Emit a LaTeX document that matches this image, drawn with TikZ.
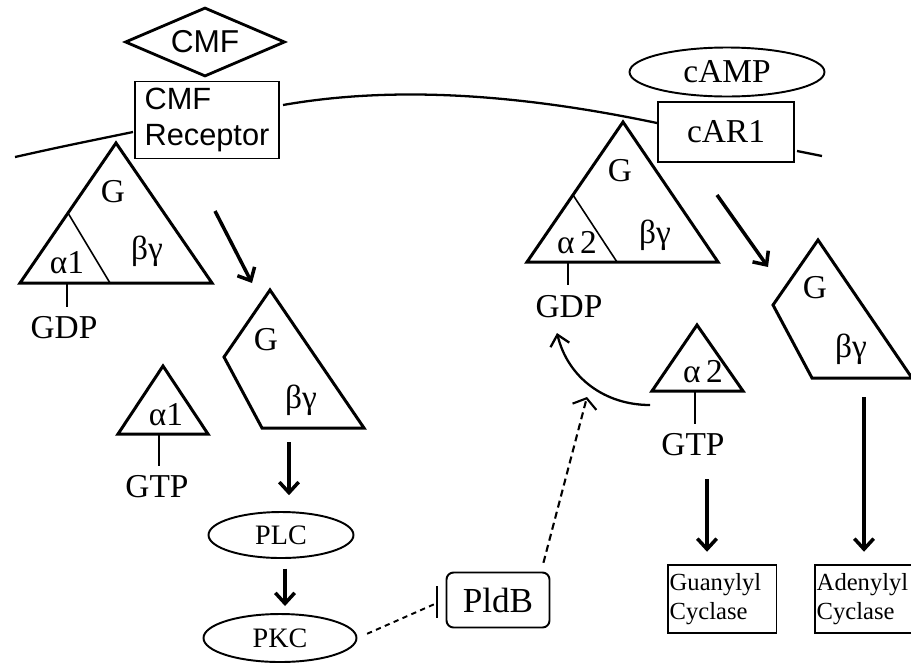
\documentclass[tikz,border=0pt]{standalone}
\usepackage{fontspec}
\setmainfont{Liberation Serif}
\setsansfont{Liberation Sans}
\usetikzlibrary{shapes, arrows.meta, positioning, calc}

\tikzset{
  membrane/.style={line width=1.3pt},
  prot/.style={line width=1.7pt, line join=miter},
  split/.style={line width=0.9pt},
  stem/.style={line width=1.1pt},
  sig/.style={line width=2pt, -{Straight Barb[length=6pt, width=11pt]}},
  lbl/.style={font=\fontsize{19}{22}\selectfont, inner sep=1pt},
  enz/.style={draw, ellipse, line width=1.1pt, inner sep=0pt, font=\fontsize{16}{19}\selectfont},
  cyc/.style={draw, rectangle, line width=1.1pt, align=left, inner ysep=0pt, inner xsep=1pt,
    text width=2.1cm, minimum height=1.36cm, font=\fontsize{14}{16.5}\selectfont},
}

\begin{document}
\begin{tikzpicture}[x=0.02cm, y=-0.02cm]
\useasboundingbox (0,0) rectangle (911,663);

% membrane
\draw[membrane] (15,157) .. controls (60,147) .. (133,132);
\draw[membrane] (283,105) .. controls (380,88) and (500,90) .. (657,123);
\draw[membrane] (797,151) -- (822,156);

% receptors and ligands
\node[draw, diamond, aspect=2.3, line width=1.6pt, inner sep=0pt,
  minimum width=3.2cm, minimum height=1.38cm,
  font=\sffamily\fontsize{18}{21}\selectfont] (cmf) at (205,42) {CMF};
\node[draw, fill=white, line width=1.1pt, align=left, inner sep=0pt,
  minimum width=2.88cm, minimum height=1.54cm,
  font=\sffamily\fontsize{17.5}{21}\selectfont] (cmfr) at (207,120) {CMF\\Receptor};
\node[draw, ellipse, line width=1.1pt, inner sep=0pt,
  minimum width=3.9cm, minimum height=0.98cm, font=\fontsize{19}{22}\selectfont] (camp) at (727,72) {cAMP};
\node[draw, fill=white, line width=1.1pt, inner sep=0pt,
  minimum width=2.72cm, minimum height=1.2cm, font=\fontsize{19}{22}\selectfont] (car) at (726,132) {cAR1};

% G protein at CMF receptor
\draw[prot] (20,283) -- (116,143) -- (212,283) -- cycle;
\draw[split] (68,213) -- (110,283);
\node[lbl] (gA) at (113,192) {G};
\node[lbl] (a1A) at (67,263) {α1};
\node[lbl] (bgA) at (147,251) {βγ};
\draw[stem] (67,283) -- ++(0,24);
\node[lbl] (gdpA) at (64,328) {GDP};

% free beta-gamma (CMF side)
\draw[prot] (270,290) -- (224,357) -- (262,428) -- (364,428) -- cycle;
\node[lbl] (gC) at (266,340) {G};
\node[lbl] (bgC) at (301,400) {βγ};

% free alpha1
\draw[prot] (118,434) -- (163,366) -- (208,434) -- cycle;
\node[lbl] (a1C) at (166,415) {α1};
\draw[stem] (159,434) -- ++(0,32);
\node[lbl] (gtpA) at (157,487) {GTP};

% G protein at cAR1
\draw[prot] (527,262) -- (623,122) -- (718,262) -- cycle;
\draw[split] (573,195) -- (617,262);
\node[lbl] (gB) at (620,171) {G};
\node[lbl] (a2B) at (577,243) {α\,2};
\node[lbl] (bgB) at (655,235) {βγ};
\draw[stem] (568,262) -- ++(0,23);
\node[lbl] (gdpB) at (569,307) {GDP};

% free beta-gamma (cAR1 side)
\draw[prot] (818,240) -- (773,305) -- (812,378) -- (912,378) -- cycle;
\node[lbl] (gD) at (815,288) {G};
\node[lbl] (bgD) at (851,349) {βγ};

% free alpha2
\draw[prot] (652,391) -- (697,325) -- (743,391) -- cycle;
\node[lbl] (a2D) at (703,372) {α\,2};
\draw[stem] (695,391) -- ++(0,33);
\node[lbl] (gtpB) at (693,445) {GTP};

% effectors
\node[enz, minimum width=2.9cm, minimum height=0.92cm] (plc) at (281,535) {PLC};
\node[enz, minimum width=3.06cm, minimum height=0.96cm] (pkc) at (280,638) {PKC};
\node[draw, rounded corners=4pt, line width=1.1pt, inner sep=0pt,
  minimum width=2.06cm, minimum height=1.1cm, font=\fontsize{20}{24}\selectfont] (pldb) at (498,600) {PldB};
\node[cyc, anchor=west] (gcyc) at (667,599) {Guanylyl\\Cyclase};
\node[cyc, anchor=west] (acyc) at (814,599) {Adenylyl\\Cyclase};

% dissociation
\coordinate (dissA) at (215,211);
\coordinate (dissA') at (252,283);
\coordinate (dissB) at (717,195);
\coordinate (dissB') at (768,267);
\draw[sig] (dissA) -- (dissA');
\draw[sig] (dissB) -- (dissB');

% signalling
\coordinate (baseC) at (289,428);
\coordinate (baseD) at (864,378);
\draw[sig, shorten <=8pt, shorten >=9pt] (baseC) -- (baseC |- plc.north);
\draw[sig, shorten <=5.5pt, shorten >=4pt] (plc.south -| 285,0) -- (pkc.north -| 285,0);
\draw[sig, shorten <=11pt, shorten >=7pt] (baseD) -- (baseD |- acyc.north);
\draw[sig, shorten <=12pt, shorten >=7pt] (gtpB.south -| 707,0) -- (gcyc.north -| 707,0);

% reassociation of alpha2 with GDP
\coordinate (a2left) at (650,405);
\coordinate (gdpin) at (557,333);
\draw[line width=1.3pt, -{Straight Barb[length=6pt, width=11pt]}]
  (a2left) .. controls (605,405) and (568,378) .. (gdpin);

% PKC inhibits PldB, PldB promotes reassociation
\coordinate (inhib) at (437,603);
\coordinate (reass) at (587,397);
\draw[dash pattern=on 3pt off 2.5pt, line width=1.1pt, shorten <=6pt] (pkc.east) -- (inhib);
\draw[line width=1.3pt] (inhib) ++(0,-17) -- ++(0,32);
\draw[dash pattern=on 4pt off 2.5pt, line width=1.2pt, -{Straight Barb[length=5pt, width=14pt]}]
  ([xshift=-4pt, yshift=5pt]pldb.north east) -- (reass);
\end{tikzpicture}
\end{document}
